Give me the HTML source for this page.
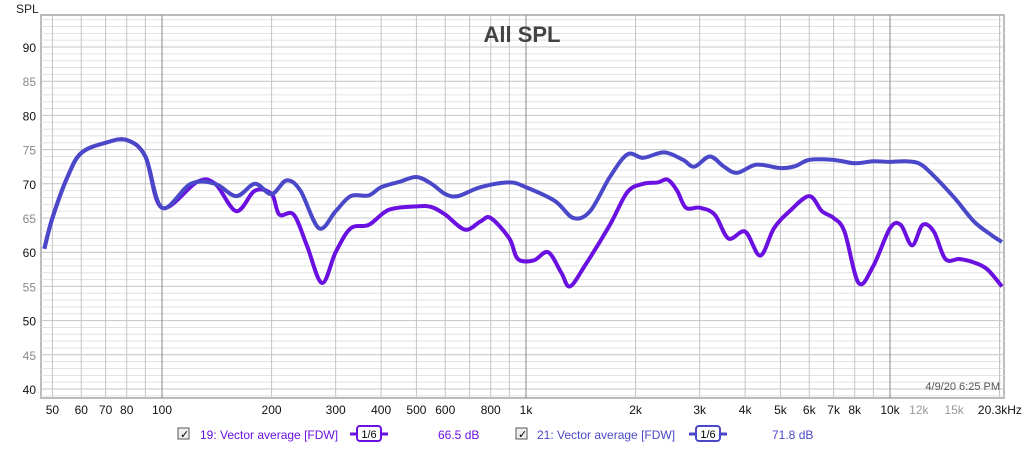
<!DOCTYPE html>
<html><head><meta charset="utf-8"><style>
body{margin:0;background:#fff;font-family:"Liberation Sans",sans-serif;}
svg text{font-family:"Liberation Sans",sans-serif;}
</style></head><body>
<svg id="chart" width="1024" height="449" xmlns="http://www.w3.org/2000/svg">
<text x="16" y="13" font-size="12" fill="#222">SPL</text>
<rect x="41" y="15" width="963" height="383" fill="#fff" stroke="#bbb" stroke-width="2"/>
<g id="grid"></g><g id="series"></g><g id="labels"></g>
<text x="522" y="42" font-size="22" font-weight="bold" fill="#444" text-anchor="middle">All SPL</text>
<text x="1000" y="390" font-size="11" fill="#555" text-anchor="end">4/9/20 6:25 PM</text>
<g>
<rect x="178" y="428" width="11" height="11" fill="#eee" stroke="#555"/>
<text x="180" y="438" font-size="11" fill="#000">✓</text>
<text x="200" y="439" font-size="12" fill="#6a10e0">19: Vector average [FDW]</text>
<rect x="357" y="426" width="24" height="15" rx="3" fill="#fff" stroke="#6a10e0" stroke-width="2"/>
<line x1="350" y1="434" x2="357" y2="434" stroke="#6a10e0" stroke-width="3"/><line x1="381" y1="434" x2="388" y2="434" stroke="#6a10e0" stroke-width="3"/>
<text x="369" y="438" font-size="11" fill="#000" text-anchor="middle">1/6</text>
<text x="382" y="439" font-size="12" fill="#6a10e0" dx="56">66.5 dB</text>
</g>
<g>
<rect x="516" y="428" width="11" height="11" fill="#eee" stroke="#555"/>
<text x="518" y="438" font-size="11" fill="#000">✓</text>
<text x="537" y="439" font-size="12" fill="#4a48c8">21: Vector average [FDW]</text>
<rect x="696" y="426" width="24" height="15" rx="3" fill="#fff" stroke="#4a48c8" stroke-width="2"/>
<line x1="689" y1="434" x2="696" y2="434" stroke="#4a48c8" stroke-width="3"/><line x1="720" y1="434" x2="727" y2="434" stroke="#4a48c8" stroke-width="3"/>
<text x="708" y="438" font-size="11" fill="#000" text-anchor="middle">1/6</text>
<text x="772" y="439" font-size="12" fill="#4a48c8">71.8 dB</text>
</g>
</svg>
<script>
const yTicks=[40,45,50,55,60,65,70,75,80,85,90];
const xTicks=[50,60,70,80,100,200,300,400,500,600,800,1000,2000,3000,4000,5000,6000,7000,8000,10000,12000,15000,20300];
const xTickLabels=["50","60","70","80","100","200","300","400","500","600","800","1k","2k","3k","4k","5k","6k","7k","8k","10k","12k","15k","20.3kHz"];
const freqs19=[47.5,50,55,60,70,80,90,100,125,140,160,180,200,210,230,250,275,300,330,370,420,500,550,600,680,750,800,900,950,1050,1150,1250,1320,1450,1700,1900,2100,2300,2450,2600,2750,3000,3300,3600,4000,4400,4800,5300,6000,6500,7000,7500,8200,9000,10000,10700,11500,12300,13200,14200,15500,17000,18500,20300];
const spl19=[60.5,65,71,74.5,76,76.4,74,66.5,70.3,70,66,69,68.5,65.5,65.5,61,55.5,60,63.5,64,66.2,66.7,66.6,65.5,63.3,64.5,65,62,59,58.8,60,57,55,58,64,68.8,70,70.2,70.6,69,66.5,66.5,65.5,62,63,59.5,63.5,66,68.2,66,65,63,55.5,58,63.5,64,61,64,63,59,59,58.5,57.5,55];
const freqs21=[47.5,50,55,60,70,80,90,100,120,140,160,180,200,220,240,270,300,330,370,400,450,500,550,600,650,750,900,1000,1200,1350,1500,1700,1900,2100,2400,2700,2900,3200,3500,3800,4300,5000,5500,6000,7000,8000,9000,10000,11000,12000,13000,15000,17000,19000,20300];
const spl21=[60.5,65,71,74.5,76,76.4,74,66.5,70,70,68.2,70,68.5,70.5,69,63.5,66,68.2,68.3,69.5,70.3,71,70,68.5,68.2,69.5,70.2,69.5,67.5,65,66,71,74.3,73.8,74.6,73.5,72.5,74,72.5,71.6,72.8,72.3,72.6,73.5,73.5,73,73.3,73.2,73.3,73,71.5,68,64.5,62.5,61.5];
const NS="http://www.w3.org/2000/svg";
const X=f=>162+364*Math.log10(f/100);
const Y=v=>389-(v-40)*6.84;
const L=41,R=1004,T=15,B=398;
const grid=document.getElementById('grid'),lab=document.getElementById('labels'),ser=document.getElementById('series');
function mk(tag,a,p){const e=document.createElementNS(NS,tag);for(const k in a)e.setAttribute(k,a[k]);p.appendChild(e);return e;}
for(let v=38;v<=94;v++){const y=Y(v);if(y<T||y>B)continue;
 const l=mk('line',{x1:L,x2:R,y1:y,y2:y,stroke:v%5==0?'#c4c4c4':'#e2e2e2','stroke-width':1},grid);
 
 }
const minor=[];for(const d of [10,100,1000,10000])for(let m=1;m<10;m++)minor.push(d*m);minor.push(20000);
minor.forEach(f=>{const x=X(f);if(x<L||x>R)return;const maj=(f==100||f==1000||f==10000);
 const l=mk('line',{x1:x,x2:x,y1:T,y2:B,stroke:maj?'#888':'#c4c4c4','stroke-width':1},grid);
 
 });
yTicks.forEach(v=>{const t=mk('text',{x:36,y:Y(v)+5,'font-size':12,'text-anchor':'end',fill:v%10==0?'#111':'#888'},lab);t.textContent=v;
 
 });
xTicks.forEach((f,i)=>{const s=xTickLabels[i];const grey=(f==12000||f==15000);
 const t=mk('text',{x:X(f)-(f==20300?2:0),y:414,'font-size':12,'text-anchor':'middle',fill:grey?'#999':'#111'},lab);t.textContent=s;
 
 });
function path(fs,vs){const p=fs.map((f,i)=>[X(f),Y(vs[i])]);let d='M'+p[0][0]+','+p[0][1];
 for(let i=0;i<p.length-1;i++){const p0=p[Math.max(0,i-1)],p1=p[i],p2=p[i+1],p3=p[Math.min(p.length-1,i+2)];
  d+=' C'+(p1[0]+(p2[0]-p0[0])/6)+','+(p1[1]+(p2[1]-p0[1])/6)+' '+(p2[0]-(p3[0]-p1[0])/6)+','+(p2[1]-(p3[1]-p1[1])/6)+' '+p2[0]+','+p2[1];}
 return d;}
const s19=mk('path',{d:path(freqs19,spl19),fill:'none',stroke:'#6a10e0','stroke-width':4,'stroke-linejoin':'round'},ser);


const s21=mk('path',{d:path(freqs21,spl21),fill:'none',stroke:'#4a48c8','stroke-width':4,'stroke-linejoin':'round'},ser);


</script>
</body></html>
